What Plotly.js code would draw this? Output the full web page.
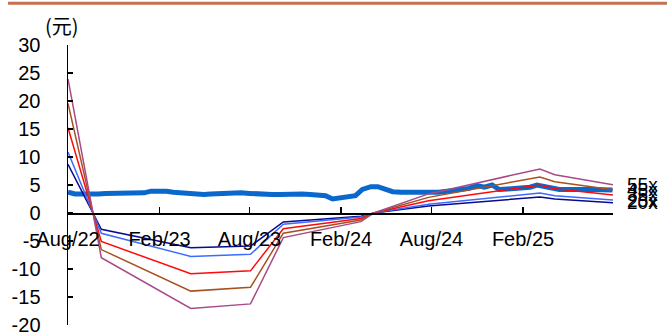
<!DOCTYPE html>
<html>
<head>
<meta charset="utf-8">
<script src="https://cdn.plot.ly/plotly-3.0.1.min.js"></script>
<style>
  html, body { margin: 0; padding: 0; background: #fff; }
  #chart { width: 667px; height: 336px; }
</style>
</head>
<body>
<div id="chart"></div>
<script>
// ---- Data ----
const priceDates = [
  '2022-08-01','2022-08-15','2022-09-01','2022-09-15','2022-10-01','2022-10-15','2022-11-01','2022-11-15',
  '2022-12-01','2022-12-15','2023-01-01','2023-01-15','2023-02-01','2023-02-15','2023-03-01','2023-03-15',
  '2023-04-01','2023-04-15','2023-05-01','2023-05-15','2023-06-01','2023-06-15','2023-07-01','2023-07-15',
  '2023-08-01','2023-08-15','2023-09-01','2023-09-15','2023-10-01','2023-10-15','2023-11-01','2023-11-15',
  '2023-12-01','2023-12-15','2024-01-01','2024-01-15','2024-02-01','2024-02-15','2024-03-01','2024-03-15',
  '2024-04-01','2024-04-15','2024-05-01','2024-05-15','2024-06-01','2024-06-15','2024-07-01','2024-07-15',
  '2024-08-01','2024-08-15','2024-09-01','2024-09-15','2024-10-01','2024-10-15','2024-11-01','2024-11-15',
  '2024-12-01','2024-12-15','2025-01-01','2025-01-15','2025-02-01','2025-02-15','2025-03-01','2025-03-15',
  '2025-04-01','2025-04-15','2025-05-01','2025-05-15','2025-06-01','2025-06-15','2025-07-01','2025-07-15',
  '2025-07-31'
];
const priceValues = [
  3.7, 3.4, 3.4, 3.3, 3.4, 3.5, 3.5, 3.4,
  3.5, 3.4, 3.6, 3.9, 4.0, 3.9, 3.7, 3.6,
  3.5, 3.5, 3.3, 3.4, 3.5, 3.4, 3.5, 3.6,
  3.5, 3.4, 3.4, 3.3, 3.3, 3.4, 3.5, 3.4,
  3.3, 3.3, 3.1, 2.5, 2.8, 3.0, 3.1, 4.2,
  4.7, 4.7, 4.2, 3.8, 3.7, 3.7, 3.6, 3.6,
  3.6, 3.7, 3.9, 4.0, 4.1, 4.4, 4.9, 4.6,
  5.0, 4.2, 4.3, 4.4, 4.5, 4.6, 5.0, 4.7,
  4.3, 4.2, 4.2, 4.1, 4.2, 4.2, 4.1, 4.1,
  4.1
];

const bandDates = ['2022-08-01','2022-10-07','2023-04-05','2023-08-03','2023-10-08','2024-03-12',
                   '2024-04-07','2024-07-26','2025-03-07','2025-04-06','2025-08-01'];
const pe20 = [8.7, -2.9, -6.2, -5.9, -1.6, -0.56, 0, 1.24, 2.86, 2.48, 1.84];
const pe25 = [10.88, -3.63, -7.75, -7.38, -2.0, -0.7, 0, 1.55, 3.58, 3.1, 2.3];
const pe35 = [15.23, -5.08, -10.85, -10.33, -2.8, -0.98, 0, 2.17, 5.0, 4.34, 3.22];
const pe45 = [19.58, -6.53, -13.95, -13.28, -3.6, -1.26, 0, 2.79, 6.44, 5.58, 4.14];
const pe55 = [23.93, -7.98, -17.05, -16.23, -4.4, -1.54, 0, 3.41, 7.87, 6.82, 5.06];

const bandNames = ['20x','25x','35x','45x','55x'];
const bandSeries = [pe20, pe25, pe35, pe45, pe55];
const bandColors = ['#0A0A8C','#3D6BFF','#FF0A0A','#A8501E','#A84A86'];

const xTickVals = ['2022-08-01','2023-02-01','2023-08-01','2024-02-01','2024-08-01','2025-02-01','2025-08-01'];
const xTickText = ['Aug/22','Feb/23','Aug/23','Feb/24','Aug/24','Feb/25',''];
const yTickVals = [-20,-15,-10,-5,0,5,10,15,20,25,30];
const yTickText = ['-20','-15','-10','-5','0','5','10','15','20','25','30'];
const unitLabel = '(元)';

// ---- Build chart ----
const FONT = 'Liberation Sans, Arial, sans-serif';
const traces = [{
  x: priceDates, y: priceValues, type: 'scatter', mode: 'lines',
  line: {color: '#0A68CC', width: 5}, name: '股价', hoverinfo: 'skip'
}];
bandSeries.forEach((s, i) => {
  traces.push({
    x: bandDates, y: s, type: 'scatter', mode: 'lines',
    line: {color: bandColors[i], width: 1.5}, name: bandNames[i]
  });
});

const annotations = bandSeries.map((s, i) => ({
  x: bandDates[bandDates.length - 1], y: s[s.length - 1], xref: 'x', yref: 'y',
  text: bandNames[i], showarrow: false, xanchor: 'left', yanchor: 'middle',
  xshift: 12, font: {family: FONT, size: 19, color: '#000'}
}));
annotations.push({
  x: -0.011, y: 1.071, xref: 'paper', yref: 'paper', text: unitLabel, showarrow: false,
  xanchor: 'center', yanchor: 'middle',
  font: {family: 'Noto Sans CJK SC, ' + FONT, size: 20, color: '#000'}
});

const layout = {
  width: 667, height: 336,
  margin: {l: 68, r: 54, t: 45, b: 11},
  paper_bgcolor: '#fff', plot_bgcolor: '#fff',
  showlegend: false,
  font: {family: FONT, color: '#000'},
  xaxis: {
    type: 'date', range: ['2022-08-01','2025-08-01'],
    tickmode: 'array', tickvals: xTickVals, ticktext: xTickText,
    ticks: 'inside', ticklen: 6, tickwidth: 1.3, tickcolor: '#000',
    showline: true, linecolor: '#000', linewidth: 1.5,
    showgrid: false, zeroline: false,
    anchor: 'free', position: 0.4,
    tickfont: {family: FONT, size: 20, color: '#000'},
    ticklabelstandoff: 7
  },
  yaxis: {
    range: [-20, 30],
    tickmode: 'array', tickvals: yTickVals, ticktext: yTickText,
    ticks: 'inside', ticklen: 5, tickwidth: 1.3, tickcolor: '#000',
    showline: true, linecolor: '#000', linewidth: 1.5,
    showgrid: false, zeroline: false,
    tickfont: {family: FONT, size: 20, color: '#000'},
    ticklabelstandoff: 22
  },
  annotations: annotations,
  shapes: [{
    type: 'line', xref: 'paper', yref: 'paper',
    x0: -0.110, x1: 1.10, y0: 1.149, y1: 1.149,
    line: {color: '#C4714F', width: 3}
  }]
};

Plotly.newPlot('chart', traces, layout, {staticPlot: true, displayModeBar: false});
</script>
</body>
</html>
